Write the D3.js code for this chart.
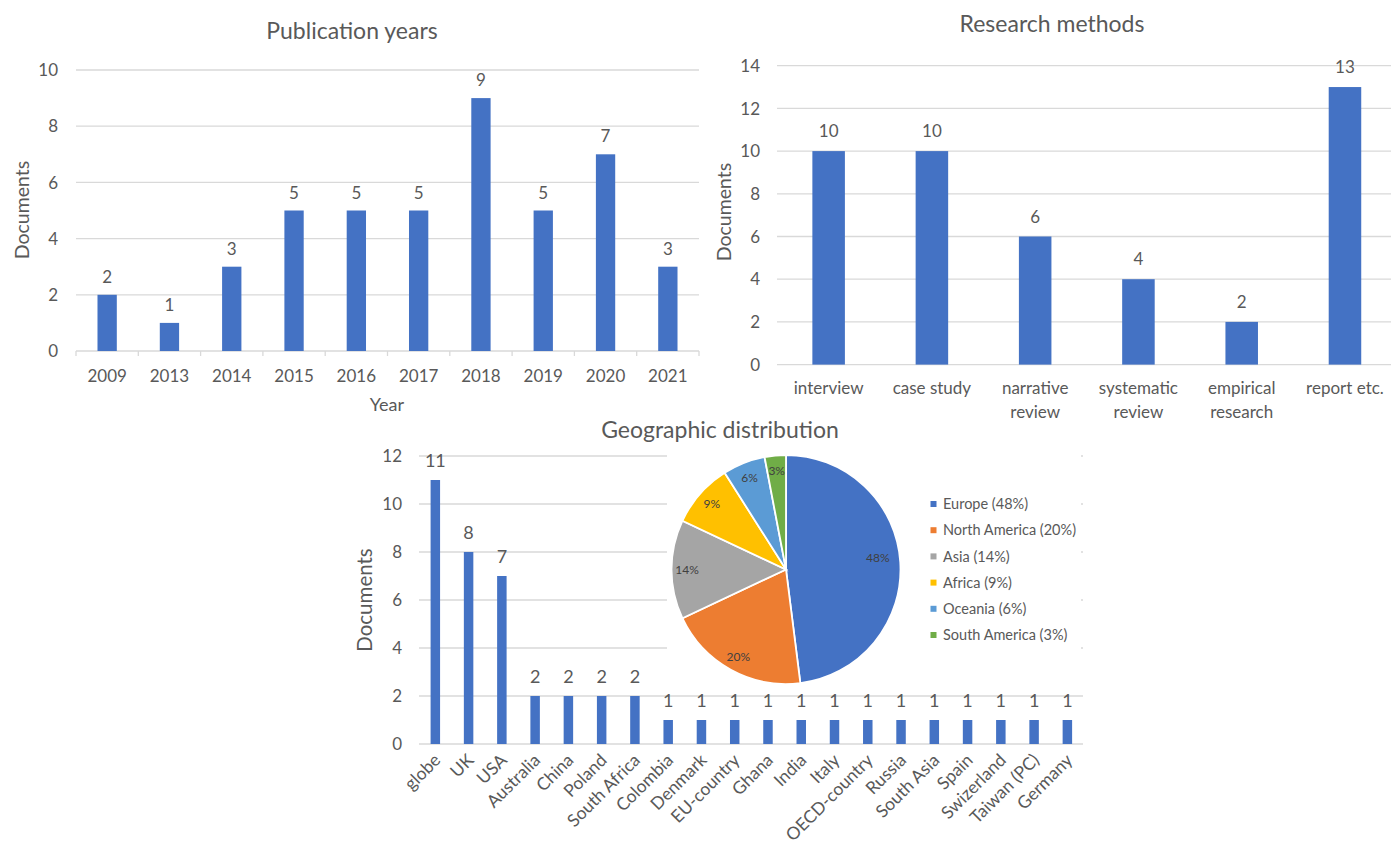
<!DOCTYPE html>
<html>
<head>
<meta charset="utf-8">
<script src="https://cdn.jsdelivr.net/npm/d3@7"></script>
<style>
  html, body { margin: 0; padding: 0; background: #fff; }
  svg { display: block; }
  text { font-family: Lato, "Open Sans", sans-serif; fill: #595959; }
</style>
</head>
<body>
<svg id="chart" width="1391" height="844"></svg>
<script>
// ---------- DATA ----------
const years = ["2009", "2013", "2014", "2015", "2016", "2017", "2018", "2019", "2020", "2021"];
const yearCounts = [2, 1, 3, 5, 5, 5, 9, 5, 7, 3];
const yearTicks = [0, 2, 4, 6, 8, 10];

const methods = ["interview", "case study", "narrative review", "systematic review", "empirical research", "report etc."];
const methodCounts = [10, 10, 6, 4, 2, 13];
const methodTicks = [0, 2, 4, 6, 8, 10, 12, 14];

const countries = ["globe", "UK", "USA", "Australia", "China", "Poland", "South Africa", "Colombia", "Denmark",
  "EU-country", "Ghana", "India", "Italy", "OECD-country", "Russia", "South Asia", "Spain", "Swizerland",
  "Taiwan (PC)", "Germany"];
const countryCounts = [11, 8, 7, 2, 2, 2, 2, 1, 1, 1, 1, 1, 1, 1, 1, 1, 1, 1, 1, 1];
const countryTicks = [0, 2, 4, 6, 8, 10, 12];

const regions = ["Europe", "North America", "Asia", "Africa", "Oceania", "South America"];
const regionShares = [48, 20, 14, 9, 6, 3];
const regionColors = ["#4472C4", "#ED7D31", "#A5A5A5", "#FFC000", "#5B9BD5", "#70AD47"];

// ---------- DRAWING ----------
const svg = d3.select("#chart");
const BAR = "#4472C4", GRID = "#d9d9d9";
const FS = 17;

function barChart(o) {
  const g = svg.append("g");
  const x = d3.scaleBand().domain(o.cats).range(o.xRange)
    .paddingInner(o.pad).paddingOuter(o.pad / 2);
  const y = d3.scaleLinear().domain(o.yDomain).range(o.yRange);

  // grid
  g.append("g").selectAll("line").data(o.ticks.filter(t => t > 0)).join("line")
    .attr("x1", o.gridX[0]).attr("x2", o.gridX[1])
    .attr("y1", d => y(d)).attr("y2", d => y(d))
    .attr("stroke", GRID).attr("stroke-width", 1.3);

  if (o.mask) o.mask(g);

  // baseline axis
  g.append("line").attr("x1", o.gridX[0]).attr("x2", o.gridX[1])
    .attr("y1", y(0)).attr("y2", y(0)).attr("stroke", GRID).attr("stroke-width", 1.3);

  if (o.tickMarks) {
    const step = x.step();
    const bounds = d3.range(o.cats.length + 1).map(i => o.xRange[0] + i * step);
    g.append("g").selectAll("line").data(bounds).join("line")
      .attr("x1", d => d).attr("x2", d => d)
      .attr("y1", y(0)).attr("y2", y(0) + 5)
      .attr("stroke", GRID).attr("stroke-width", 1.3);
  }

  // y tick labels
  g.append("g").selectAll("text").data(o.ticks).join("text")
    .attr("x", o.tickLabelX).attr("y", d => y(d)).attr("dy", "0.36em")
    .attr("text-anchor", "end").style("font-size", FS + "px").text(d => d);

  // bars
  g.append("g").selectAll("rect").data(o.vals).join("rect")
    .attr("x", (d, i) => x(o.cats[i])).attr("width", x.bandwidth())
    .attr("y", d => y(d)).attr("height", d => y(0) - y(d))
    .attr("fill", BAR);

  // value labels
  g.append("g").selectAll("text").data(o.vals).join("text")
    .attr("x", (d, i) => x(o.cats[i]) + x.bandwidth() / 2)
    .attr("y", d => y(d) - o.valGap)
    .attr("text-anchor", "middle").style("font-size", (o.valFS || FS) + "px").text(d => d);

  // category labels
  if (o.rotate) {
    g.append("g").selectAll("text").data(o.cats).join("text")
      .attr("transform", d => `translate(${x(d) + x.bandwidth() / 2 + o.rotDx},${o.catY}) rotate(-45)`)
      .attr("dy", "0.75em").attr("text-anchor", "end")
      .style("font-size", o.catFS + "px").text(d => d);
  } else {
    const cat = g.append("g").selectAll("text").data(o.cats).join("text")
      .attr("x", d => x(d) + x.bandwidth() / 2).attr("y", o.catY)
      .attr("text-anchor", "middle").style("font-size", FS + "px");
    // wrap words to band width
    cat.each(function (d) {
      const t = d3.select(this);
      const words = d.split(" ");
      let line = [], lines = [];
      const probe = t.append("tspan");
      words.forEach(w => {
        const test = line.concat([w]).join(" ");
        probe.text(test);
        if (probe.node().getComputedTextLength() > x.step() * 0.98 && line.length) {
          lines.push(line.join(" ")); line = [w];
        } else line.push(w);
      });
      lines.push(line.join(" "));
      probe.remove();
      lines.forEach((l, i) => {
        t.append("tspan").attr("x", x(d) + x.bandwidth() / 2)
          .attr("dy", i === 0 ? 0 : o.lineH).text(l);
      });
    });
  }

  // titles
  g.append("text").attr("x", o.title[1]).attr("y", o.title[2])
    .attr("text-anchor", "middle").style("font-size", "23px").text(o.title[0]);
  g.append("text").attr("transform", `translate(${o.yTitle[0]},${o.yTitle[1]}) rotate(-90)`)
    .attr("dy", "0.36em").attr("text-anchor", "middle").style("font-size", o.yTitleFS + "px").text("Documents");
  if (o.xTitle) {
    g.append("text").attr("x", o.xTitle[1]).attr("y", o.xTitle[2])
      .attr("text-anchor", "middle").style("font-size", "18px").text(o.xTitle[0]);
  }
  return { x, y };
}

// Chart 1: Publication years
barChart({
  cats: years, vals: yearCounts, ticks: yearTicks,
  xRange: [76, 699], pad: 0.69, yDomain: [0, 10], yRange: [351, 70],
  gridX: [76, 699], tickLabelX: 58, tickMarks: true, valGap: 12,
  catY: 382, title: ["Publication years", 352, 39], yTitle: [22, 210], yTitleFS: 19.5,
  xTitle: ["Year", 387, 411]
});

// Chart 2: Research methods
barChart({
  cats: methods, vals: methodCounts, ticks: methodTicks,
  xRange: [777, 1396.6], pad: 0.685, yDomain: [0, 14], yRange: [364.6, 65.7],
  gridX: [777, 1391], tickLabelX: 760, tickMarks: false, valGap: 14,
  catY: 394, lineH: 24, title: ["Research methods", 1052, 32], yTitle: [724, 212], yTitleFS: 19.5
});

// Chart 3: Geographic distribution
barChart({
  cats: countries, vals: countryCounts, ticks: countryTicks,
  xRange: [418.7, 1084], pad: 0.715, yDomain: [0, 12], yRange: [744, 456],
  gridX: [419, 1083], tickLabelX: 402, tickMarks: false, valGap: 13, valFS: 18,
  rotate: true, rotDx: -3, catY: 752, catFS: 17.5,
  title: ["Geographic distribution", 720, 438], yTitle: [365, 600], yTitleFS: 20.5,
  mask: g => g.append("rect").attr("x", 667).attr("y", 446).attr("width", 414).attr("height", 244).attr("fill", "#fff")
});

// Pie overlay
const cx = 786, cy = 569.5, R = 114.5;
const pie = d3.pie().sort(null).value(d => d)(regionShares);
const arc = d3.arc().innerRadius(0).outerRadius(R);
const labelArc = d3.arc().innerRadius(99).outerRadius(99);
const pg = svg.append("g").attr("transform", `translate(${cx},${cy})`);
pg.selectAll("path").data(pie).join("path")
  .attr("d", arc).attr("fill", (d, i) => regionColors[i])
  .attr("stroke", "#fff").attr("stroke-width", 1.8);
pg.selectAll("text").data(pie).join("text")
  .attr("transform", (d, i) => {
    const c = i === 0 ? d3.arc().innerRadius(92).outerRadius(92).centroid(d) : labelArc.centroid(d);
    return `translate(${c[0]},${c[1] - (i === 0 ? 6 : 0)})`;
  })
  .attr("dy", "0.36em").attr("text-anchor", "middle")
  .style("font-size", "12px").style("fill", "#404040")
  .text(d => d.data + "%");

// Legend
const lg = svg.append("g");
const ly = d3.scalePoint().domain(regions).range([504, 635]);
lg.selectAll("rect").data(regions).join("rect")
  .attr("x", 930.5).attr("y", d => ly(d) - 3).attr("width", 6).attr("height", 6)
  .attr("fill", (d, i) => regionColors[i]);
lg.selectAll("text").data(regions).join("text")
  .attr("x", 943).attr("y", d => ly(d)).attr("dy", "0.36em")
  .style("font-size", "14.5px")
  .text((d, i) => `${d} (${regionShares[i]}%)`);
</script>
</body>
</html>
